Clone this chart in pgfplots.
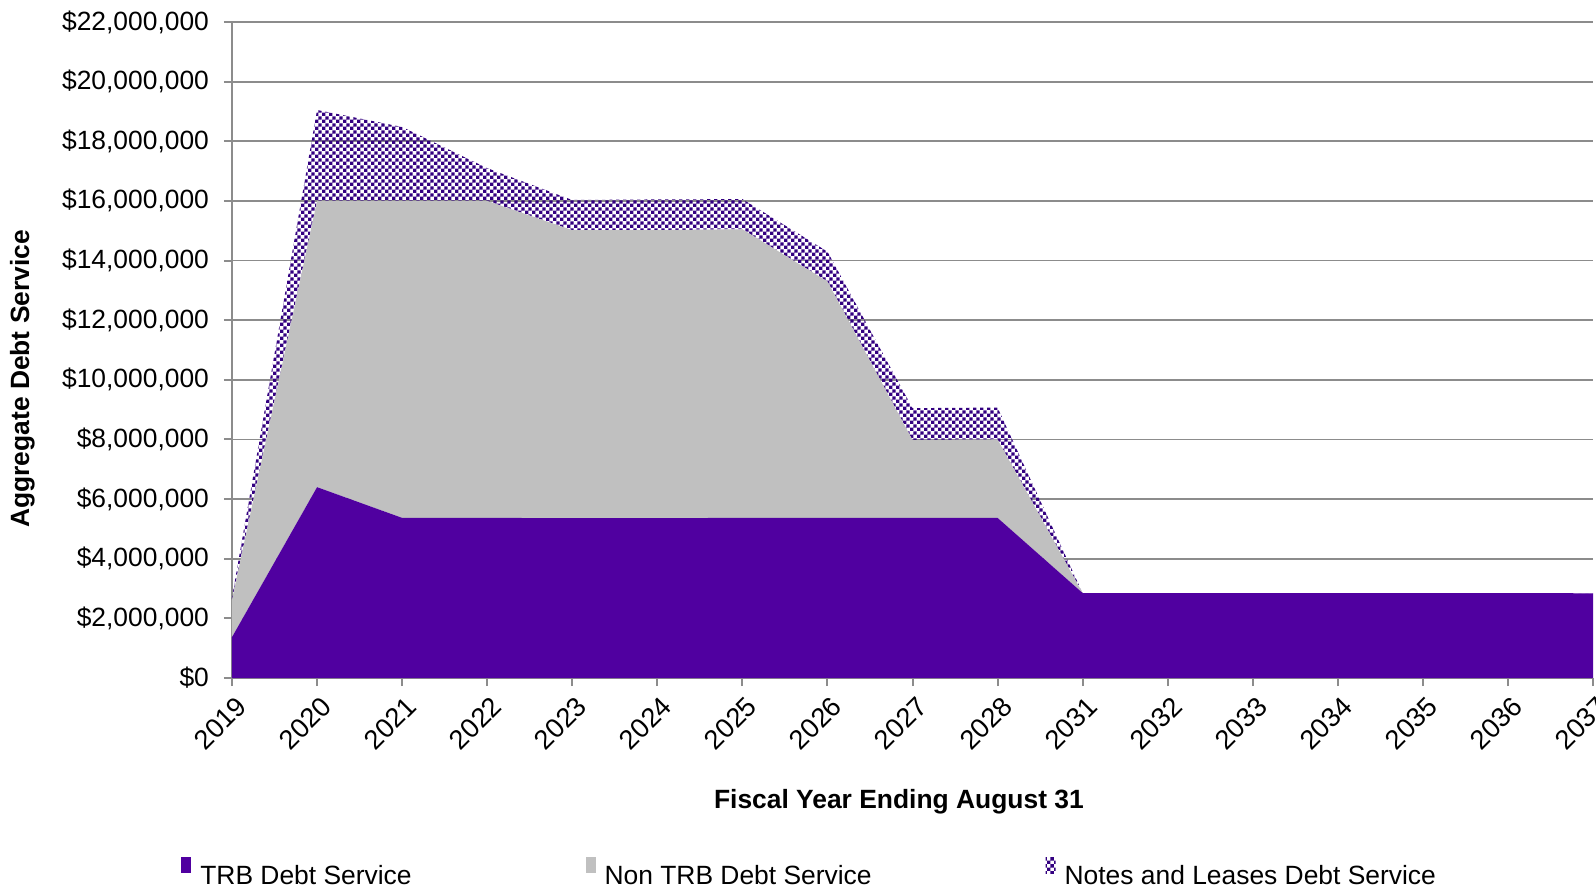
\documentclass[border=0pt]{standalone}
\usepackage{pgfplots}
\usepackage{pgfplotstable}
\pgfplotsset{compat=1.18}
\usepackage{fontspec}
\setmainfont{Liberation Sans}
\usetikzlibrary{patterns}
\pgfdeclarepatternformonly{mycheck}{\pgfpointorigin}{\pgfqpoint{3.4pt}{3.4pt}}{\pgfqpoint{3.4pt}{3.4pt}}{%
  \pgfpathrectangle{\pgfpointorigin}{\pgfqpoint{1.7pt}{1.7pt}}%
  \pgfpathrectangle{\pgfqpoint{1.7pt}{1.7pt}}{\pgfqpoint{1.7pt}{1.7pt}}%
  \pgfusepath{fill}}
\definecolor{trb}{RGB}{80,0,160}
\definecolor{nontrb}{RGB}{192,192,192}
\definecolor{notes}{RGB}{51,0,128}
\definecolor{gridc}{RGB}{140,140,140}

% values in millions of dollars (stack increments)
\pgfplotstableread{
x trb non notes
0 1.37 1.25 0.08
1 6.40 9.60 3.05
2 5.37 10.63 2.48
3 5.37 10.63 1.10
4 5.36 9.66 1.01
5 5.36 9.66 1.03
6 5.37 9.68 1.01
7 5.37 7.93 1.00
8 5.37 2.61 1.07
9 5.37 2.63 1.07
10 2.85 0.00 0.00
11 2.85 0.00 0.00
12 2.85 0.00 0.00
13 2.85 0.00 0.00
14 2.85 0.00 0.00
15 2.85 0.00 0.00
16 2.84 0.00 0.00
}\data

\begin{document}
\begin{tikzpicture}
\begin{axis}[
  scale only axis, width=680.5pt, height=328pt,
  xmin=0, xmax=16, ymin=0, ymax=22,
  axis x line*=bottom, axis y line*=left,
  axis line style={draw=gridc, line width=1pt},
  xtick={0,...,16},
  xticklabels={2019,2020,2021,2022,2023,2024,2025,2026,2027,2028,2031,2032,2033,2034,2035,2036,2037},
  ytick={0,2,...,22},
  yticklabel={\ifdim\tick pt=0pt \$0\else\$\pgfmathprintnumber[fixed,precision=0]{\tick},000,000\fi},
  /pgf/number format/assume math mode=true,
  ymajorgrids, grid style={draw=gridc, line width=0.9pt},
  tick style={draw=gridc, line width=1pt},
  tick align=outside, major tick length=4pt,
  tick label style={font=\fontsize{13.2}{15}\selectfont, text=black},
  yticklabel style={xshift=-4pt},
  xticklabel style={rotate=45, anchor=north east, inner sep=2pt, yshift=-2pt, font=\fontsize{13.6}{15}\selectfont},
  xlabel={Fiscal Year Ending August 31},
  ylabel={Aggregate Debt Service},
  label style={font=\fontsize{13.2}{15}\selectfont\bfseries},
  xlabel style={at={(axis description cs:0.49,-0.189)}, anchor=center},
  ylabel style={at={(axis description cs:-0.154,0.456)}, anchor=center},
  stack plots=y,
  legend columns=3,
  legend style={at={(axis description cs:-0.0375,-0.316)}, anchor=south west,
    draw=none, fill=none, inner sep=0pt,
    font=\fontsize{13.2}{15}\selectfont,
    nodes={inner sep=0pt, text depth=0pt},
    /tikz/every odd column/.append style={column sep=4.5pt},
    /tikz/every even column/.append style={column sep=87pt}},
  legend cell align=left,
  legend image code/.code={\fill[#1] (0pt,1pt) rectangle (5pt,9pt);},
]
\addplot[fill=trb, draw=none] table[x=x, y=trb]{\data} \closedcycle;
\addplot[fill=nontrb, draw=none] table[x=x, y=non]{\data} \closedcycle;
\addplot[pattern=mycheck, pattern color=notes, draw=none] table[x=x, y=notes]{\data} \closedcycle;
\legend{TRB Debt Service, Non TRB Debt Service, Notes and Leases Debt Service}
\coordinate (A) at (rel axis cs:0,0);
\coordinate (B) at (rel axis cs:1,1);
\end{axis}
\pgfresetboundingbox
\path[use as bounding box] ([xshift=-116pt,yshift=-103pt]A) rectangle ([xshift=1.5pt,yshift=11pt]B);
\end{tikzpicture}
\end{document}
